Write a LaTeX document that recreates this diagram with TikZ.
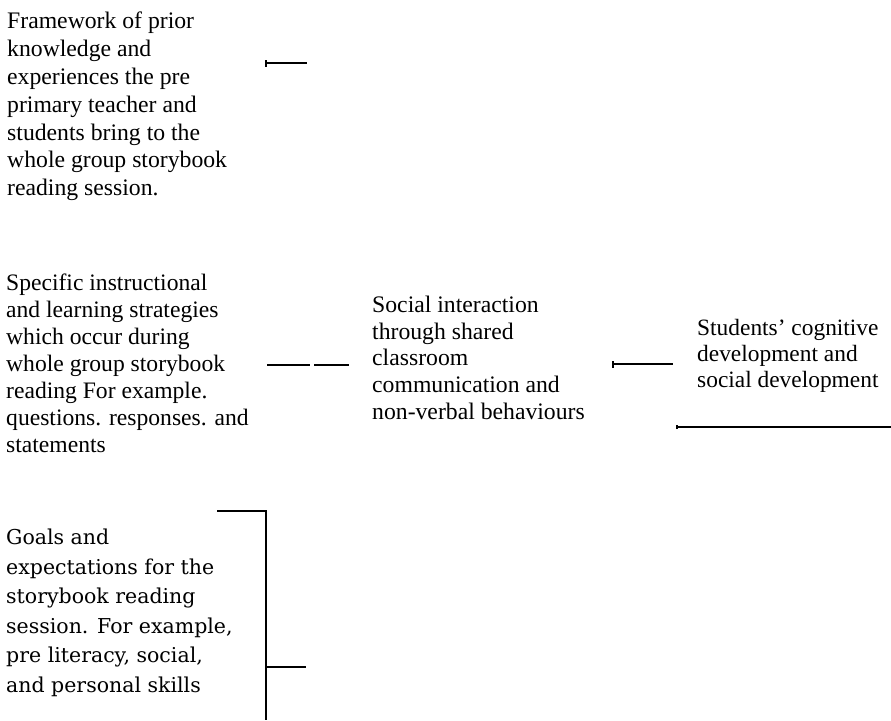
\documentclass[tikz,border=0pt]{standalone}
\usepackage{fontspec}
\setmainfont{Liberation Serif}
\newfontfamily\goalfont{DejaVu Serif}
\usetikzlibrary{arrows.meta}
\tikzset{
  txt/.style={anchor=north west, inner sep=0pt, align=left},
  seg/.style={line width=1.6pt},
  barseg/.style={line width=1.6pt, {Bar[width=7pt,line width=2pt]}-},
}
\begin{document}
\begin{tikzpicture}[x=1pt,y=-1pt]
\useasboundingbox (0,0) rectangle (891,720);
% text blocks
\node[txt, font=\fontsize{23.7}{27.8}\selectfont] (frame) at (7,12) {Framework of prior\\knowledge and\\experiences the pre\\primary teacher and\\students bring to the\\whole group storybook\\reading session.};
\node[txt, font=\fontsize{23.6}{27}\selectfont] (strat) at (6,274) {Specific instructional\\and learning strategies\\which occur during\\whole group storybook\\reading For example.\\questions. responses. and\\statements};
\node[txt, font=\fontsize{23.7}{26.6}\selectfont] (social) at (372,296) {Social interaction\\through shared\\classroom\\communication and\\non-verbal behaviours};
\node[txt, font=\fontsize{23.4}{26}\selectfont] (stud) at (697,319) {Students' cognitive\\development and\\social development};
\node[txt, font=\goalfont\fontsize{20.5}{29.5}\selectfont] (goals) at (6,529) {Goals and\\expectations for the\\storybook reading\\session. For example,\\pre literacy, social,\\and personal skills};
% connector fragments
\coordinate (t1a) at (265,63);  \coordinate (t1b) at (307,63);
\coordinate (d1a) at (267,365); \coordinate (d1b) at (310,365);
\coordinate (d2a) at (314,365); \coordinate (d2b) at (349,365);
\coordinate (r1a) at (612,364); \coordinate (r1b) at (673,364);
\coordinate (u1a) at (676,427); \coordinate (u1b) at (891,427);
\coordinate (b1) at (217,511); \coordinate (b2) at (266,511); \coordinate (b3) at (266,720);
\coordinate (b4) at (266,667); \coordinate (b5) at (306,667);
\draw[barseg] (t1a) -- (t1b);
\draw[seg] (d1a) -- (d1b);
\draw[seg] (d2a) -- (d2b);
\draw[barseg] (r1a) -- (r1b);
\draw[seg, {Bar[width=4pt,line width=1.6pt]}-] (u1a) -- (u1b);
\draw[seg] (b1) -- (b2) -- (b3);
\draw[seg] (b4) -- (b5);
\end{tikzpicture}
\end{document}
